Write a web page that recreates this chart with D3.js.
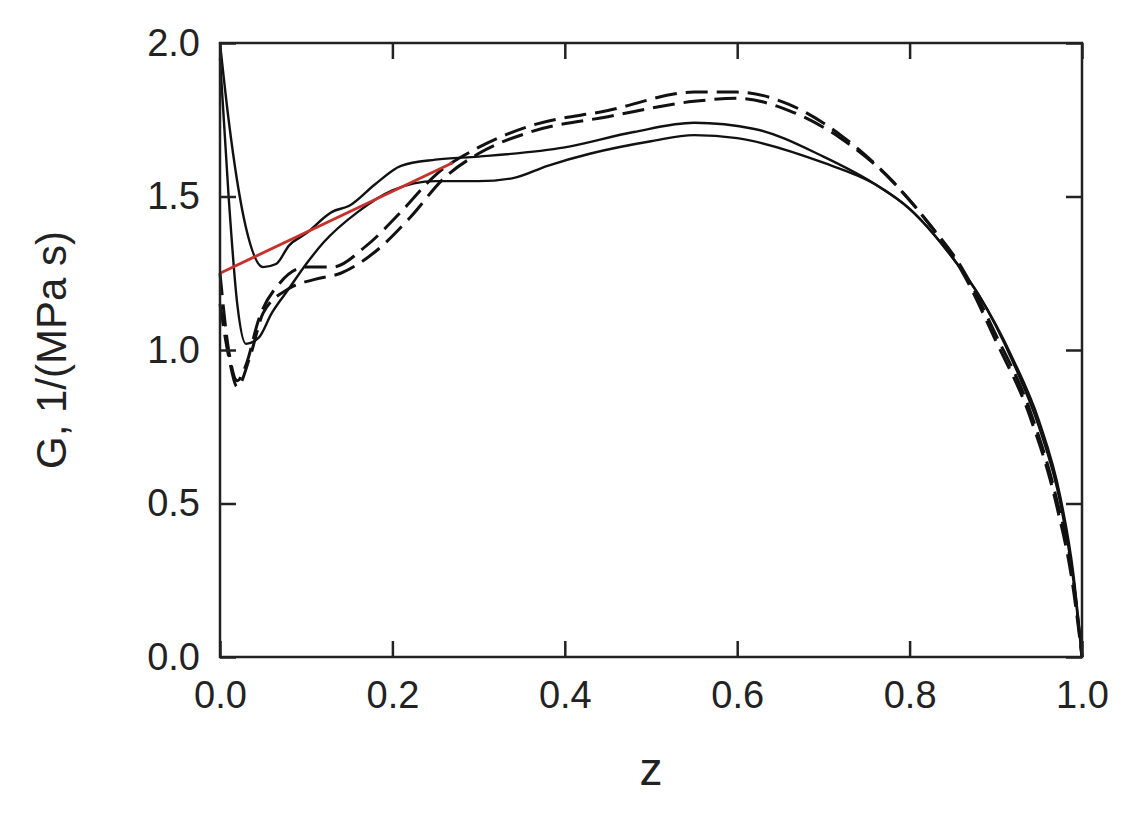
<!DOCTYPE html>
<html><head><meta charset="utf-8">
<script src="https://cdn.jsdelivr.net/npm/d3@7"></script>
<style>body{margin:0;background:#fff}text{font-family:"Liberation Sans",Arial,sans-serif}</style>
</head><body>
<script>
// curve data: [z, G]
var solidUpper = [[0,2.0],[0.01,1.75],[0.03,1.4],[0.05,1.27],[0.065,1.28],[0.08,1.34],[0.1,1.38],[0.13,1.45],[0.15,1.47],[0.18,1.54],[0.21,1.6],[0.25,1.62],[0.3,1.63],[0.4,1.66],[0.48,1.71],[0.55,1.74],[0.62,1.72],[0.7,1.63],[0.76,1.54],[0.8,1.46],[0.85,1.3],[0.88,1.18],[0.92,0.96],[0.95,0.75],[0.975,0.5],[0.99,0.25],[1.0,0]];
var solidLower = [[0,1.95],[0.01,1.5],[0.02,1.15],[0.03,1.02],[0.045,1.04],[0.06,1.12],[0.08,1.2],[0.1,1.28],[0.12,1.35],[0.16,1.45],[0.2,1.52],[0.25,1.55],[0.3,1.55],[0.34,1.56],[0.38,1.6],[0.43,1.64],[0.5,1.68],[0.55,1.7],[0.6,1.69],[0.7,1.61],[0.76,1.54],[0.8,1.46],[0.85,1.3],[0.88,1.18],[0.92,0.97],[0.95,0.77],[0.975,0.52],[0.99,0.27],[1.0,0]];
var dashUpper = [[0,1.25],[0.01,1.0],[0.02,0.9],[0.03,0.95],[0.045,1.1],[0.07,1.22],[0.1,1.27],[0.13,1.27],[0.17,1.34],[0.21,1.45],[0.25,1.57],[0.3,1.66],[0.36,1.73],[0.45,1.78],[0.55,1.84],[0.6,1.84],[0.66,1.8],[0.72,1.7],[0.78,1.55],[0.82,1.42],[0.86,1.27],[0.9,1.05],[0.94,0.8],[0.97,0.52],[0.99,0.25],[1.0,0]];
var dashLower = [[0,1.15],[0.01,0.98],[0.02,0.88],[0.035,0.98],[0.05,1.12],[0.08,1.2],[0.11,1.23],[0.14,1.25],[0.18,1.32],[0.22,1.43],[0.26,1.56],[0.3,1.64],[0.36,1.71],[0.45,1.76],[0.55,1.81],[0.6,1.82],[0.66,1.78],[0.72,1.69],[0.78,1.55],[0.82,1.42],[0.86,1.26],[0.9,1.03],[0.94,0.78],[0.97,0.5],[0.99,0.22],[1.0,0]];
var redLine = [[0,1.25],[0.27,1.61]];
var xTicks = [0,0.2,0.4,0.6,0.8,1.0];
var yTicks = [0,0.5,1.0,1.5,2.0];

var W = 1123, H = 817;
var L = 220, R = 1082, T = 43, B = 657;
var svg = d3.select("body").append("svg").attr("width", W).attr("height", H);
var x = d3.scaleLinear().domain([0,1]).range([L,R]);
var y = d3.scaleLinear().domain([0,2]).range([B,T]);

var line = d3.line().x(function(d){return x(d[0])}).y(function(d){return y(d[1])}).curve(d3.curveMonotoneX);

function drawCurve(data, dash, color, width){
  svg.append("path").datum(data).attr("d", line).attr("fill","none")
    .attr("stroke", color).attr("stroke-width", width)
    .attr("stroke-dasharray", dash);
}
drawCurve(dashUpper, "22,9", "#111", 3);
drawCurve(dashLower, "22,9", "#111", 3);
drawCurve(solidUpper, null, "#111", 2.4);
drawCurve(solidLower, null, "#111", 2.4);
svg.append("path").datum(redLine).attr("d", d3.line().x(function(d){return x(d[0])}).y(function(d){return y(d[1])}))
  .attr("stroke","#c8302c").attr("stroke-width",2.8).attr("fill","none");

// frame
svg.append("rect").attr("x",L).attr("y",T).attr("width",R-L).attr("height",B-T)
  .attr("fill","none").attr("stroke","#222").attr("stroke-width",2.5);

// inward ticks on all sides
var xa = svg.append("g").attr("transform","translate(0,"+B+")")
  .call(d3.axisBottom(x).tickValues(xTicks).tickFormat(d3.format(".1f")).tickSizeInner(-16).tickSizeOuter(0).tickPadding(24));
var ya = svg.append("g").attr("transform","translate("+L+",0)")
  .call(d3.axisLeft(y).tickValues(yTicks).tickFormat(d3.format(".1f")).tickSizeInner(-16).tickSizeOuter(0).tickPadding(26));
svg.append("g").attr("transform","translate(0,"+T+")")
  .call(d3.axisTop(x).tickValues(xTicks).tickFormat("").tickSizeInner(-16).tickSizeOuter(0));
svg.append("g").attr("transform","translate("+R+",0)")
  .call(d3.axisRight(y).tickValues(yTicks).tickFormat("").tickSizeInner(-16).tickSizeOuter(0));
svg.selectAll(".domain").remove();
svg.selectAll(".tick line").attr("stroke","#222").attr("stroke-width",2.5);
svg.selectAll(".tick text").attr("font-size",38).attr("fill","#222");
ya.selectAll(".tick text").attr("dx",6);

svg.append("text").attr("x",(L+R)/2).attr("y",785).attr("text-anchor","middle")
  .attr("font-size",46).attr("fill","#222").text("z");
svg.append("text").attr("transform","translate(66,"+((T+B)/2)+") rotate(-90)")
  .attr("text-anchor","middle").attr("font-size",42).attr("fill","#222").text("G,  1/(MPa s)");
</script>
</body></html>
